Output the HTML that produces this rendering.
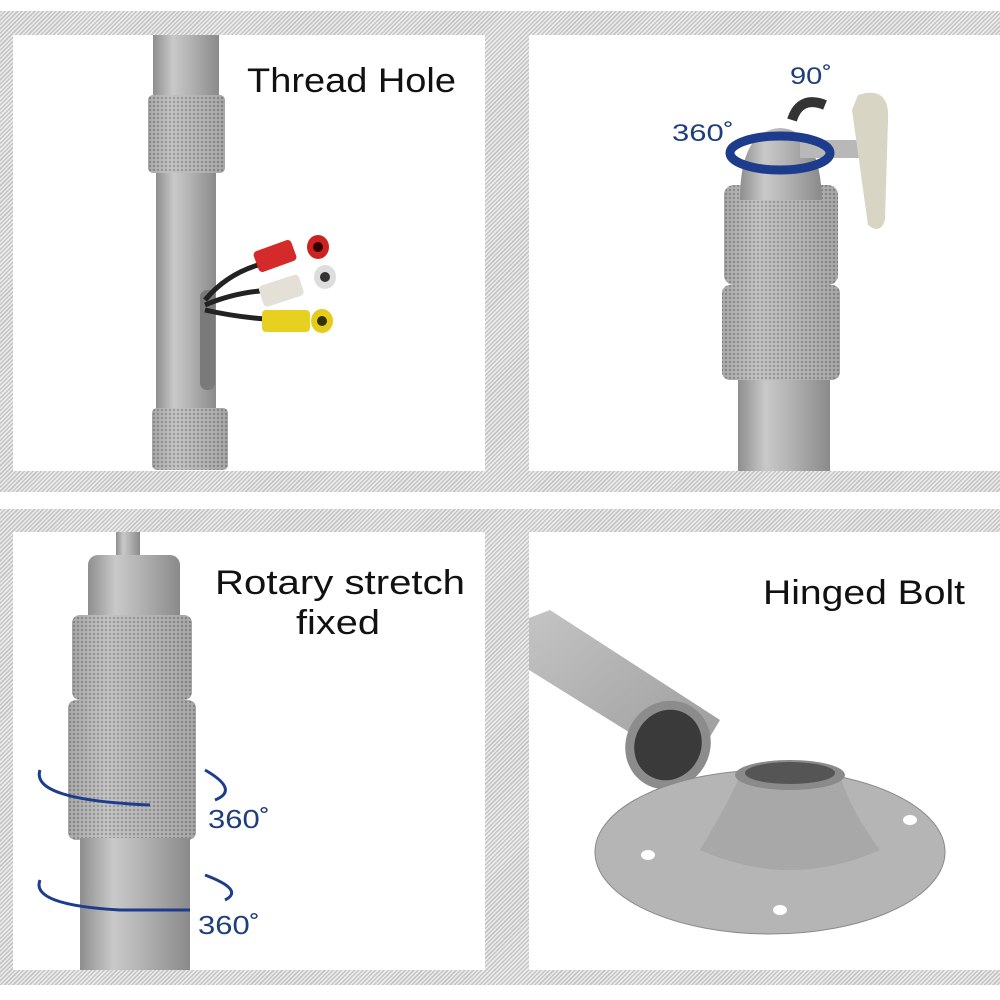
<!DOCTYPE html>
<html><head><meta charset="utf-8"><style>
html,body{margin:0;padding:0;background:#fff}
#w{position:relative;width:1000px;height:1000px;overflow:hidden;background:#fff}
.h{position:absolute;background:repeating-linear-gradient(135deg,#c4c4c4 0 1.5px,#ececec 1.5px 3px)}
.p{position:absolute;background:#fff}
svg{position:absolute;left:0;top:0}
</style></head><body><div id="w">
<div class="h" style="left:0;top:11px;width:1000px;height:481px"></div>
<div class="h" style="left:0;top:509px;width:1000px;height:476px"></div>
<div class="p" style="left:13px;top:35px;width:472px;height:436px"></div>
<div class="p" style="left:529px;top:35px;width:471px;height:436px"></div>
<div class="p" style="left:13px;top:532px;width:472px;height:438px"></div>
<div class="p" style="left:529px;top:532px;width:471px;height:438px"></div>
<svg width="1000" height="1000" viewBox="0 0 1000 1000" font-family="Liberation Sans, sans-serif">
<defs>
<linearGradient id="m" x1="0" x2="1" y1="0" y2="0">
<stop offset="0" stop-color="#8e8e8e"/><stop offset="0.3" stop-color="#c9c9c9"/><stop offset="0.55" stop-color="#b4b4b4"/><stop offset="1" stop-color="#8a8a8a"/></linearGradient>
<pattern id="k" width="4" height="4" patternUnits="userSpaceOnUse"><rect width="4" height="4" fill="#bdbdbd"/><circle cx="2" cy="2" r="1.1" fill="#6e6e6e"/></pattern>
<linearGradient id="pl" x1="0" x2="1" y1="0" y2="1"><stop offset="0" stop-color="#c4c4c4"/><stop offset="1" stop-color="#9a9a9a"/></linearGradient>
</defs>
<!-- TL -->
<rect x="153" y="35" width="66" height="62" fill="url(#m)"/>
<rect x="148" y="95" width="77" height="78" rx="5" fill="url(#k)"/>
<rect x="148" y="95" width="77" height="78" rx="5" fill="url(#m)" opacity="0.45"/>
<rect x="156" y="173" width="60" height="237" fill="url(#m)"/>
<rect x="200" y="290" width="15" height="100" rx="7" fill="#7a7a7a"/>
<rect x="152" y="408" width="76" height="62" rx="5" fill="url(#k)"/>
<rect x="152" y="408" width="76" height="62" rx="5" fill="url(#m)" opacity="0.45"/>
<path d="M205 300 Q230 270 270 262 M205 305 Q240 290 280 290 M205 310 Q240 318 280 320" stroke="#222" stroke-width="5" fill="none"/>
<rect x="255" y="245" width="40" height="22" rx="4" fill="#d42a2a" transform="rotate(-20 275 256)"/>
<ellipse cx="318" cy="247" rx="11" ry="12" fill="#c22"/><circle cx="318" cy="247" r="5" fill="#300"/>
<rect x="260" y="280" width="42" height="22" rx="4" fill="#e4e0d8" transform="rotate(-18 280 290)"/>
<ellipse cx="325" cy="277" rx="11" ry="12" fill="#ddd"/><circle cx="325" cy="277" r="5" fill="#333"/>
<rect x="262" y="310" width="48" height="22" rx="4" fill="#e8d020"/>
<ellipse cx="322" cy="321" rx="11" ry="12" fill="#e6cc1a"/><circle cx="322" cy="321" r="5" fill="#330"/>
<text x="247" y="92" font-size="34" fill="#111" textLength="209" lengthAdjust="spacingAndGlyphs">Thread Hole</text>
<!-- TR -->
<rect x="738" y="375" width="92" height="96" fill="url(#m)"/>
<rect x="722" y="285" width="118" height="95" rx="8" fill="url(#k)"/>
<rect x="722" y="285" width="118" height="95" rx="8" fill="url(#m)" opacity="0.45"/>
<rect x="724" y="185" width="114" height="100" rx="10" fill="url(#k)"/>
<rect x="724" y="185" width="114" height="100" rx="10" fill="url(#m)" opacity="0.45"/>
<path d="M740 200 Q740 130 780 128 Q820 130 822 200 Z" fill="url(#m)"/>
<rect x="800" y="140" width="60" height="18" fill="#b8b8b8"/>
<rect x="860" y="140" width="25" height="8" fill="#999"/>
<path d="M858 95 Q890 85 888 120 L885 220 Q880 235 868 225 L852 110 Z" fill="#d8d5c4"/>
<text x="790" y="84" font-size="24" fill="#1f3f7a" textLength="42" lengthAdjust="spacingAndGlyphs">90˚</text>
<text x="672" y="141" font-size="24" fill="#1f3f7a" textLength="62" lengthAdjust="spacingAndGlyphs">360˚</text>
<ellipse cx="780" cy="153" rx="50" ry="17" fill="none" stroke="#1d3c8c" stroke-width="9"/>
<path d="M792 120 Q800 95 825 105" stroke="#333" stroke-width="10" fill="none"/>
<!-- BL -->
<rect x="116" y="532" width="24" height="30" fill="url(#m)"/>
<rect x="88" y="555" width="92" height="70" rx="10" fill="url(#m)"/>
<rect x="72" y="615" width="120" height="85" rx="8" fill="url(#k)"/>
<rect x="72" y="615" width="120" height="85" rx="8" fill="url(#m)" opacity="0.45"/>
<rect x="68" y="700" width="128" height="140" rx="8" fill="url(#k)"/>
<rect x="68" y="700" width="128" height="140" rx="8" fill="url(#m)" opacity="0.45"/>
<rect x="80" y="838" width="110" height="132" fill="url(#m)"/>
<path d="M40 770 Q30 800 150 805 M205 770 Q240 790 215 800 M40 880 Q30 905 120 910 L190 910 M205 875 Q245 890 225 900" stroke="#1d3c8c" stroke-width="3" fill="none"/>
<text x="215" y="594" font-size="34" fill="#111" textLength="250" lengthAdjust="spacingAndGlyphs">Rotary stretch</text>
<text x="296" y="634" font-size="34" fill="#111" textLength="84" lengthAdjust="spacingAndGlyphs">fixed</text>
<text x="208" y="828" font-size="26" fill="#1f3f7a" textLength="62" lengthAdjust="spacingAndGlyphs">360˚</text>
<text x="198" y="934" font-size="26" fill="#1f3f7a" textLength="62" lengthAdjust="spacingAndGlyphs">360˚</text>
<!-- BR -->
<path d="M529 618 L550 610 L720 720 L690 770 L529 670 Z" fill="url(#pl)"/>
<ellipse cx="668" cy="745" rx="42" ry="45" fill="#8c8c8c" transform="rotate(30 668 745)"/>
<ellipse cx="668" cy="745" rx="33" ry="36" fill="#3a3a3a" transform="rotate(30 668 745)"/>
<ellipse cx="770" cy="852" rx="175" ry="82" fill="#b5b5b5" stroke="#8a8a8a"/>
<path d="M700 850 Q730 800 740 775 L840 775 Q850 810 880 850 Q790 890 700 850 Z" fill="#a8a8a8"/>
<ellipse cx="790" cy="775" rx="55" ry="15" fill="#8a8a8a"/>
<ellipse cx="790" cy="773" rx="45" ry="11" fill="#555"/>
<ellipse cx="648" cy="855" rx="7" ry="5" fill="#fff"/>
<ellipse cx="910" cy="820" rx="7" ry="5" fill="#fff"/>
<ellipse cx="780" cy="910" rx="7" ry="5" fill="#fff"/>
<text x="763" y="604" font-size="34" fill="#111" textLength="202" lengthAdjust="spacingAndGlyphs">Hinged Bolt</text>
</svg>
</div></body></html>
